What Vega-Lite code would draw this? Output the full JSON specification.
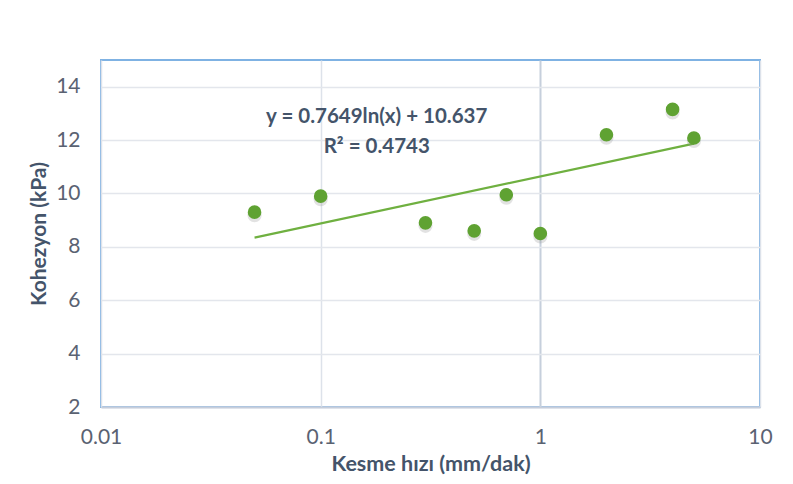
{
  "$schema": "https://vega.github.io/schema/vega-lite/v6.json",
  "autosize": "none",
  "width": 659,
  "height": 347,
  "padding": {"left": 101, "top": 60, "right": 33, "bottom": 77},
  "background": "white",
  "config": {
    "font": "Lato",
    "view": {"stroke": "#7fb2e3", "strokeWidth": 2}
  },
  "datasets": {
    "olcum": [
      {"hiz": 0.05, "kohezyon": 9.3},
      {"hiz": 0.1, "kohezyon": 9.9},
      {"hiz": 0.3, "kohezyon": 8.9},
      {"hiz": 0.5, "kohezyon": 8.6},
      {"hiz": 0.7, "kohezyon": 9.95},
      {"hiz": 1, "kohezyon": 8.5},
      {"hiz": 2, "kohezyon": 12.2},
      {"hiz": 4, "kohezyon": 13.15},
      {"hiz": 5, "kohezyon": 12.08}
    ],
    "egilim": [
      {"hiz": 0.05, "kohezyon": 8.346},
      {"hiz": 5, "kohezyon": 11.868}
    ],
    "denklem": [
      {"hiz": 0.18, "kohezyon": 12.85, "etiket": "y = 0.7649ln(x) + 10.637"},
      {"hiz": 0.18, "kohezyon": 11.75, "etiket": "R² = 0.4743"}
    ]
  },
  "encoding": {
    "x": {
      "field": "hiz",
      "type": "quantitative",
      "scale": {"type": "log", "domain": [0.01, 10]},
      "axis": {
        "title": "Kesme hızı (mm/dak)",
        "values": [0.01, 0.1, 1, 10],
        "format": "~g",
        "labelFlush": false,
        "grid": true,
        "gridColor": {"condition": {"test": "datum.value == 1", "value": "#c6cfdc"}, "value": "#dde2ea"},
        "gridWidth": {"condition": {"test": "datum.value == 1", "value": 2}, "value": 1.5},
        "domainColor": "#c5cddb",
        "domainWidth": 2,
        "ticks": false,
        "labelFont": "Lato",
        "labelFontSize": 21,
        "labelColor": "#5a6272",
        "labelPadding": 19,
        "titleFont": "Lato",
        "titleFontSize": 21.5,
        "titleFontWeight": "bold",
        "titleColor": "#44546a",
        "titlePadding": 6
      }
    },
    "y": {
      "field": "kohezyon",
      "type": "quantitative",
      "scale": {"domain": [2, 15], "nice": false, "zero": false},
      "axis": {
        "title": "Kohezyon (kPa)",
        "values": [2, 4, 6, 8, 10, 12, 14],
        "grid": true,
        "gridColor": "#e3e6ec",
        "gridWidth": 1.5,
        "domain": false,
        "ticks": false,
        "labelFont": "Lato",
        "labelFontSize": 21,
        "labelColor": "#5a6272",
        "labelPadding": 21,
        "titleFont": "Lato",
        "titleFontSize": 21,
        "titleFontWeight": "bold",
        "titleColor": "#44546a",
        "titlePadding": 6
      }
    }
  },
  "layer": [
    {
      "data": {"name": "egilim"},
      "mark": {"type": "line", "color": "#6fb040", "strokeWidth": 2.2}
    },
    {
      "data": {"name": "olcum"},
      "mark": {"type": "circle", "size": 200, "color": "#8a8a8a", "opacity": 0.25},
      "encoding": {"yOffset": {"value": 3}}
    },
    {
      "data": {"name": "olcum"},
      "mark": {"type": "circle", "size": 185, "color": "#5fa232", "opacity": 1}
    },
    {
      "data": {"name": "denklem"},
      "mark": {"type": "text", "font": "Lato", "fontSize": 20.5, "fontWeight": "bold", "color": "#44546a", "align": "center", "baseline": "middle"},
      "encoding": {"text": {"field": "etiket"}}
    }
  ]
}
